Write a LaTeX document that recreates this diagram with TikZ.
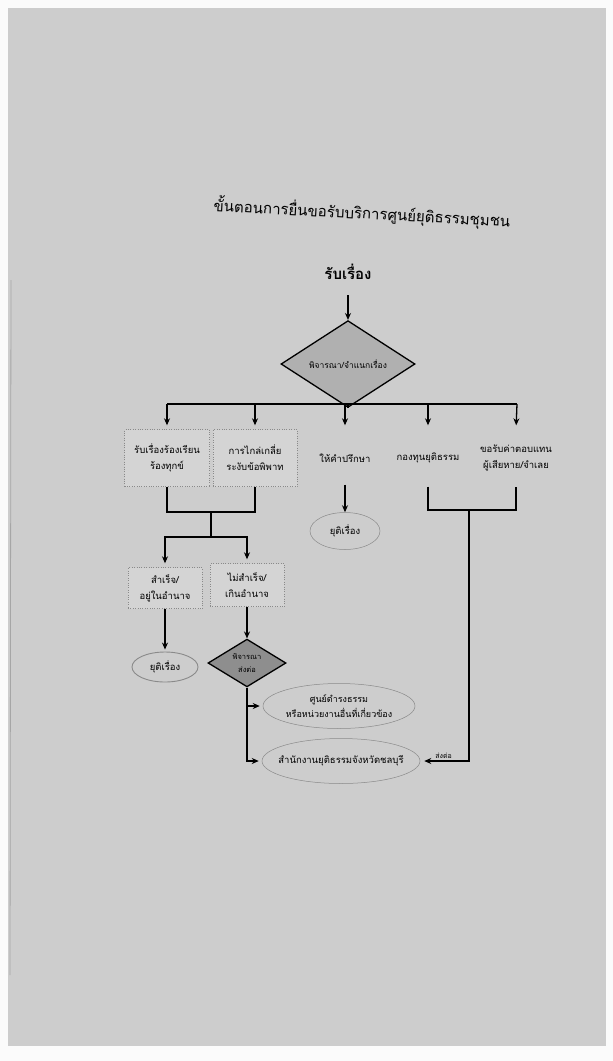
\documentclass[tikz,border=0pt]{standalone}
\usepackage{fontspec}
\newfontfamily\thai[Script=Thai]{Loma}
\usetikzlibrary{shapes.geometric,arrows.meta}
\definecolor{paper}{HTML}{CDCDCD}
\definecolor{boxfill}{HTML}{D4D4D4}
\definecolor{dfill}{HTML}{B0B0B0}
\definecolor{dfilldark}{HTML}{8E8E8E}
\definecolor{edge}{HTML}{8A8A8A}
\begin{document}
\begin{tikzpicture}[x=1pt,y=-1pt,font=\thai,
  conn/.style={draw=black,line width=1.3pt},
  arr/.style={conn,-{Stealth[length=7pt,width=6pt]}},
  small/.style={font=\thai\fontsize{9.5}{16}\selectfont},
  box/.style={small,draw=edge,dotted,fill=boxfill,align=center,inner sep=1pt},
  plain/.style={small,align=center,inner sep=1pt},
  oval/.style={small,ellipse,draw=edge,line width=0.5pt,align=center,inner sep=-8pt},
  dec/.style={small,diamond,draw=black,line width=1.3pt,align=center,inner sep=0pt}]
\useasboundingbox (0,0) rectangle (613,1061);
\fill[white!92!paper] (0,0) rectangle (613,1061);
\fill[paper] (8,8) rectangle (606,1046);
\draw[gray!70,line width=0.8pt] (11,280) -- (10,975);

\node[font=\thai\fontsize{15}{18}\selectfont,rotate=-3] (title) at (362,213) {ขั้นตอนการยื่นขอรับบริการศูนย์ยุติธรรมชุมชน};
\node[font=\thai\bfseries\fontsize{15}{18}\selectfont] (recv) at (348,272) {รับเรื่อง};

\node[dec,fill=dfill,minimum width=134pt,minimum height=52pt,font=\thai\fontsize{8.5}{14}\selectfont] (d1) at (348,364) {พิจารณา/จำแนกเรื่อง};
\draw[arr,shorten <=12pt] (recv.south) -- (d1.north);

\coordinate (bc) at (348,404);
\coordinate (bl) at (167,404);
\coordinate (br) at (517,404);

\node[box,minimum width=85pt,minimum height=57pt] (b1) at (167,458) {รับเรื่องร้องเรียน\\ร้องทุกข์};
\node[box,minimum width=84pt,minimum height=57pt] (b2) at (255,458) {การไกล่เกลี่ย\\ระงับข้อพิพาท};
\node[plain,minimum width=80pt,minimum height=57pt] (c3) at (345,458) {ให้คำปรึกษา};
\node[plain,minimum width=80pt,minimum height=57pt] (c4) at (428,458) {กองทุนยุติธรรม};
\node[plain,minimum width=90pt,minimum height=57pt] (c5) at (516,458) {ขอรับค่าตอบแทน\\ผู้เสียหาย/จำเลย};

\draw[conn] (d1.south) -- (bc);
\draw[conn] (bl) -- (br);
\draw[arr,shorten >=4pt] (bl) -- (b1.north);
\draw[arr,shorten >=4pt] (bl -| b2.north) -- (b2.north);
\draw[arr,shorten >=4pt] (bl -| c3.north) -- (c3.north);
\draw[arr,shorten >=4pt] (bl -| c4.north) -- (c4.north);
\draw[arr,shorten >=4pt] (br) -- (c5.north);

\node[oval,minimum width=70pt,minimum height=37pt] (e0) at (345,531) {ยุติเรื่อง};
\draw[arr,shorten <=-2pt] (c3.south) -- (e0.north);

\coordinate (j1) at (211,512);
\coordinate (j2) at (211,537);
\draw[conn] (b1.south) |- (j1) -| (b2.south);
\draw[conn] (j1) -- (j2);

\node[box,minimum width=74pt,minimum height=41pt] (b3) at (165,588) {สำเร็จ/\\อยู่ในอำนาจ};
\node[box,minimum width=74pt,minimum height=43pt] (b4) at (247,585) {ไม่สำเร็จ/\\เกินอำนาจ};
\draw[arr,shorten >=4pt] (j2) -| (b3.north);
\draw[arr,shorten >=4pt] (j2) -| (b4.north);

\node[oval,line width=0.9pt,minimum width=66pt,minimum height=30pt] (e1) at (165,667) {ยุติเรื่อง};
\draw[arr,shorten >=2pt] (b3.south) -- (e1.north);

\node[dec,fill=dfilldark,minimum width=78pt,minimum height=41pt,font=\thai\fontsize{7.5}{13}\selectfont] (d2) at (247,663) {พิจารณา\\ส่งต่อ};
\draw[arr] (b4.south) -- (d2.north);

\node[oval,minimum width=152pt,minimum height=45pt,font=\thai\fontsize{9}{15}\selectfont] (e2) at (339,706) {ศูนย์ดำรงธรรม\\หรือหน่วยงานอื่นที่เกี่ยวข้อง};
\node[oval,minimum width=158pt,minimum height=45pt] (e3) at (341,761) {สำนักงานยุติธรรมจังหวัดชลบุรี};

\draw[arr,shorten >=3pt] (d2.south) |- (e3.west);
\draw[arr,shorten >=3pt] (d2.south |- e2.west) -- (e2.west);

\coordinate (j3) at (469,510);
\draw[conn] (c4.south) |- (j3) -| (c5.south);
\draw[arr,shorten >=4pt] (j3) |- (e3.east) node[pos=0.76,above,font=\thai\fontsize{7}{8}\selectfont,inner sep=2pt] {ส่งต่อ};
\end{tikzpicture}
\end{document}
